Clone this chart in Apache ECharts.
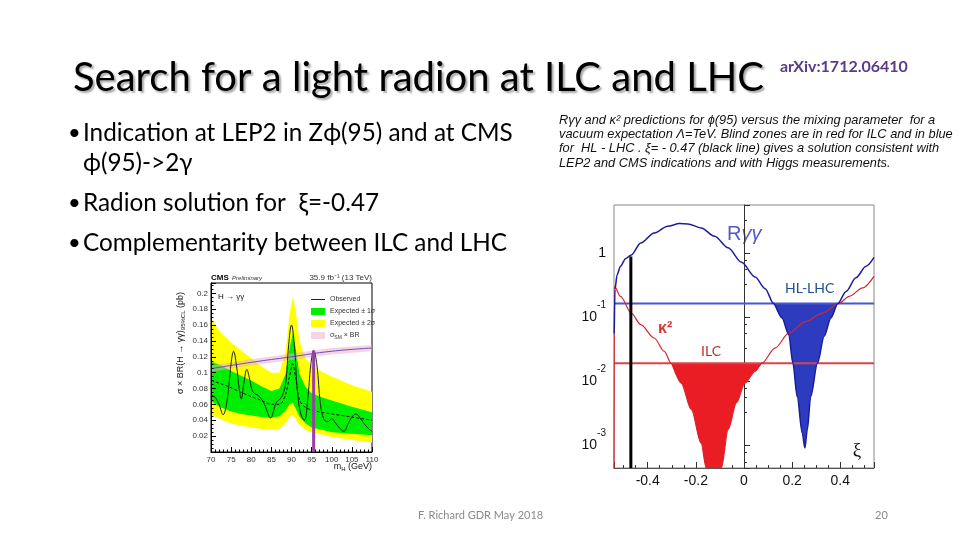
<!DOCTYPE html>
<html>
<head>
<meta charset="utf-8">
<script src="https://cdn.jsdelivr.net/npm/echarts@6/dist/echarts.min.js"></script>
<style>
  html, body { margin: 0; padding: 0; background: #fff; }
  #slide { width: 960px; height: 540px; }
</style>
</head>
<body>
<div id="slide"></div>
<script>
// ---- CMS H -> gamma gamma limit plot (left) ----
const bandMass = [70, 72.5, 75, 77.5, 80, 82.5, 85, 87, 88.5, 89.5, 90.3, 91, 92, 93.5, 95, 97.5, 100, 105, 110]
const yellowHigh = [0.168, 0.150, 0.138, 0.128, 0.118, 0.108, 0.100, 0.100, 0.125, 0.172, 0.196, 0.180, 0.140, 0.118, 0.109, 0.101, 0.095, 0.084, 0.076]
const yellowLow = [0.047, 0.041, 0.036, 0.033, 0.031, 0.029, 0.028, 0.029, 0.036, 0.044, 0.047, 0.042, 0.034, 0.028, 0.025, 0.022, 0.019, 0.015, 0.012]
const greenHigh = [0.114, 0.109, 0.102, 0.096, 0.090, 0.083, 0.077, 0.080, 0.098, 0.130, 0.150, 0.132, 0.098, 0.082, 0.074, 0.069, 0.065, 0.057, 0.050]
const greenLow = [0.064, 0.056, 0.051, 0.048, 0.046, 0.044, 0.043, 0.045, 0.052, 0.060, 0.062, 0.055, 0.044, 0.036, 0.031, 0.028, 0.025, 0.023, 0.021]
const expected = [0.090, 0.086, 0.081, 0.075, 0.070, 0.065, 0.060, 0.060, 0.072, 0.095, 0.111, 0.095, 0.065, 0.056, 0.053, 0.050, 0.048, 0.044, 0.040]

const obsMass = [70, 71, 72, 73, 74, 75, 75.6, 76.3, 77, 77.5, 78.2, 78.9, 79.6, 80.4, 82, 83.3, 84.8, 86.2, 87.5, 88.5, 89.3, 90, 90.7, 91.5, 92.3, 93.2, 94, 94.8, 95.5, 96.3, 97.2, 98, 99, 100, 101, 102, 103, 104, 105, 106, 107, 108, 109, 110]
const observed = [0.072, 0.069, 0.060, 0.047, 0.065, 0.112, 0.127, 0.110, 0.080, 0.067, 0.088, 0.104, 0.092, 0.076, 0.070, 0.060, 0.043, 0.062, 0.069, 0.085, 0.135, 0.160, 0.135, 0.075, 0.048, 0.040, 0.065, 0.110, 0.128, 0.110, 0.060, 0.042, 0.038, 0.042, 0.036, 0.030, 0.026, 0.035, 0.044, 0.048, 0.043, 0.036, 0.030, 0.026]

const smMass = [70, 80, 90, 100, 110]
const smXsec = [0.105, 0.113, 0.120, 0.127, 0.131]
const smLow = [0.101, 0.109, 0.116, 0.123, 0.127]
const smHigh = [0.109, 0.117, 0.124, 0.131, 0.135]

const excessMass = 95.5
const excessTop = 0.128

// ---- radion R_gamgam / kappa^2 vs xi (right) ----
const xiR = [-0.539, -0.536, -0.527, -0.513, -0.492, -0.468, -0.429, -0.373, -0.317, -0.268, -0.233, -0.178, -0.122, -0.066, -0.010, 0.046, 0.088, 0.123, 0.158, 0.186, 0.203, 0.221, 0.242, 0.253, 0.263, 0.277, 0.305, 0.333, 0.361, 0.389, 0.424, 0.465, 0.507, 0.54]
const rgg = [0.056, 0.27, 0.458, 0.62, 0.815, 0.93, 1.43, 2.05, 2.61, 2.87, 2.84, 2.46, 1.82, 1.20, 0.715, 0.42, 0.277, 0.162, 0.0964, 0.053, 0.019, 0.0057, 0.00154, 0.0009, 0.00174, 0.0057, 0.019, 0.050, 0.0964, 0.162, 0.25, 0.41, 0.62, 0.85]

const xiK = [-0.5399, -0.538, -0.513, -0.468, -0.429, -0.373, -0.331, -0.303, -0.261, -0.219, -0.178, -0.157, -0.125, -0.094, -0.066, -0.031, 0.004, 0.046, 0.074, 0.130, 0.186, 0.256, 0.326, 0.393, 0.437, 0.493, 0.54]
const kappa2 = [0.0002, 0.30, 0.21, 0.115, 0.076, 0.047, 0.029, 0.019, 0.0093, 0.0036, 0.00107, 0.00044, 0.00012, 0.00044, 0.00174, 0.0046, 0.0093, 0.0142, 0.019, 0.033, 0.056, 0.085, 0.115, 0.162, 0.21, 0.284, 0.43]

const hlLhcLimit = 0.162
const ilcLimit = 0.019
const xiSolution = -0.47
const xiSolutionTop = 0.88
const xiRange = [-0.54, 0.54]
const yRange = [4.4e-4, 5.6]

const pairs = (xs, ys) => xs.map((x, i) => [x, ys[i]])
const between = (xs, ys, a, b) => pairs(xs, ys).filter(p => p[0] >= a && p[0] <= b)

const chart = echarts.init(document.getElementById('slide'), null, { width: 960, height: 540 })

const arial = 'Liberation Sans'
const cal = 'Lato'

// filled band between two curves, drawn as one polygon through the axis scales
function band(name, xs, lo, hi, color) {
  return {
    name: name, type: 'custom', xAxisIndex: 0, yAxisIndex: 0, clip: true, silent: true,
    itemStyle: { color: color },
    encode: { x: 0, y: [1, 2] },
    data: xs.map((x, i) => [x, lo[i], hi[i]]),
    renderItem: function (params, api) {
      if (params.dataIndex !== 0) return
      const pts = []
      for (let i = 0; i < xs.length; i++) pts.push(api.coord([xs[i], hi[i]]))
      for (let i = xs.length - 1; i >= 0; i--) pts.push(api.coord([xs[i], lo[i]]))
      return { type: 'polygon', shape: { points: pts }, style: { fill: color } }
    }
  }
}

var option = {
  animation: false,
  backgroundColor: '#fff',
  legend: {
    left: 306, top: 291, orient: 'vertical',
    itemWidth: 14, itemHeight: 7, itemGap: 5,
    textStyle: { fontSize: 7, fontFamily: arial, color: '#333',
      rich: { a: { fontSize: 7, fontFamily: arial }, sub: { fontSize: 5, fontFamily: arial, padding: [4, 0, 0, 0] } } },
    formatter: function (n) { return n === 'σSM × BR' ? '{a|σ}{sub|SM}{a| × BR}' : n },
    data: [
      { name: 'Observed', icon: 'path://M0,0 L14,0 L14,1 L0,1 Z', itemStyle: { color: '#222' } },
      { name: 'Expected ± 1σ', icon: 'rect' },
      { name: 'Expected ± 2σ', icon: 'rect' },
      { name: 'σSM × BR', icon: 'rect' }
    ]
  },
  grid: [
    { left: 211, top: 283, width: 161, height: 169, show: true, borderColor: '#000', borderWidth: 1, backgroundColor: '#fff' },
    { left: 614, top: 205, width: 260, height: 263, show: true, borderColor: '#888', borderWidth: 1 }
  ],
  xAxis: [
    {
      gridIndex: 0, type: 'value', min: 70, max: 110, interval: 5, z: 5,
      axisLine: { lineStyle: { color: '#000' } },
      axisTick: { inside: true, length: 5, lineStyle: { color: '#000' } },
      minorTick: { show: true, splitNumber: 5, length: 2.5, lineStyle: { color: '#000' } },
      splitLine: { show: false },
      axisLabel: { fontSize: 8, fontFamily: arial, color: '#333', margin: 4 }
    },
    {
      gridIndex: 1, type: 'value', min: xiRange[0], max: xiRange[1],
      axisLine: { lineStyle: { color: '#555' } },
      axisTick: { inside: true, length: 6, lineStyle: { color: '#333' } },
      minorTick: { show: true, splitNumber: 4, length: 3, lineStyle: { color: '#333' } },
      splitLine: { show: false },
      axisLabel: {
        fontSize: 14, fontFamily: arial, color: '#111', margin: 6,
        formatter: function (v) {
          const k = v / 0.2
          if (Math.abs(k - Math.round(k)) > 1e-6) return ''
          return Math.abs(v) < 1e-9 ? '0' : String(+v.toFixed(1))
        }
      }
    }
  ],
  yAxis: [
    {
      gridIndex: 0, type: 'value', min: 0, max: 0.213, interval: 0.02, z: 5,
      axisLine: { lineStyle: { color: '#000' } },
      axisTick: { inside: true, length: 5, lineStyle: { color: '#000' } },
      minorTick: { show: true, splitNumber: 4, length: 2.5, lineStyle: { color: '#000' } },
      splitLine: { show: false },
      axisLabel: {
        fontSize: 8, fontFamily: arial, color: '#333', margin: 3,
        formatter: function (v) { return (v < 0.001 || v > 0.2001) ? '' : String(+v.toFixed(2)) }
      }
    },
    {
      gridIndex: 1, type: 'log', logBase: 10, min: yRange[0], max: yRange[1],
      axisLine: { show: true, lineStyle: { color: '#333' } },
      axisTick: { inside: true, length: 6, lineStyle: { color: '#333' } },
      minorTick: { show: true, splitNumber: 4, length: 3, lineStyle: { color: '#333' } },
      splitLine: { show: false },
      axisLabel: {
        margin: 8,
        formatter: function (v) {
          const lg = Math.log10(v)
          const e = Math.round(lg)
          if (Math.abs(lg - e) > 1e-6) return ''
          if (e === 0) return '{b|1}'
          return '{b|10}{s|' + e + '}'
        },
        rich: {
          b: { fontSize: 14, fontFamily: arial, color: '#111', verticalAlign: 'middle' },
          s: { fontSize: 10, fontFamily: arial, color: '#111', verticalAlign: 'middle', padding: [0, 0, 24, 0] }
        }
      }
    }
  ],
  series: [
    // CMS bands
    band('Expected ± 2σ', bandMass, yellowLow, yellowHigh, '#ffff00'),
    band('Expected ± 1σ', bandMass, greenLow, greenHigh, '#00ee00'),
    band('σSM × BR', smMass, smLow, smHigh, 'rgba(240,170,200,0.5)'),
    {
      name: 'smLine', type: 'line', xAxisIndex: 0, yAxisIndex: 0, symbol: 'none', smooth: true,
      data: pairs(smMass, smXsec),
      lineStyle: { color: '#6650c0', width: 1 }
    },
    {
      name: 'Expected', type: 'line', xAxisIndex: 0, yAxisIndex: 0, symbol: 'none', smooth: 0.3,
      data: pairs(bandMass, expected),
      lineStyle: { color: '#111', width: 1, type: [3, 2] }
    },
    {
      name: 'Observed', type: 'line', xAxisIndex: 0, yAxisIndex: 0, symbol: 'none', smooth: 0.4,
      data: pairs(obsMass, observed),
      itemStyle: { color: '#222' },
      lineStyle: { color: '#222', width: 1 }
    },
    {
      name: 'excess', type: 'line', xAxisIndex: 0, yAxisIndex: 0, symbol: 'none',
      data: [[excessMass, 0], [excessMass, excessTop]],
      lineStyle: { color: '#9a3fa6', width: 3 }
    },

    // radion plot: blind zones
    {
      name: 'ILC blind', type: 'line', xAxisIndex: 1, yAxisIndex: 1, symbol: 'none', smooth: 0.3, smoothMonotone: 'x',
      data: between(xiK, kappa2, -0.303, 0.074),
      lineStyle: { width: 0 }, areaStyle: { color: '#ea1c24', opacity: 1, origin: ilcLimit }
    },
    {
      name: 'HL-LHC blind', type: 'line', xAxisIndex: 1, yAxisIndex: 1, symbol: 'none', smooth: 0.3, smoothMonotone: 'x',
      data: between(xiR, rgg, 0.123, 0.389),
      lineStyle: { width: 0 }, areaStyle: { color: '#2d3cbf', opacity: 1, origin: hlLhcLimit }
    },
    {
      name: 'HL-LHC', type: 'line', xAxisIndex: 1, yAxisIndex: 1, symbol: 'none',
      data: [[xiRange[0], hlLhcLimit], [xiRange[1], hlLhcLimit]],
      lineStyle: { color: '#4657cf', width: 2 }
    },
    {
      name: 'ILC', type: 'line', xAxisIndex: 1, yAxisIndex: 1, symbol: 'none',
      data: [[xiRange[0], ilcLimit], [xiRange[1], ilcLimit]],
      lineStyle: { color: '#d9444a', width: 2 }
    },
    {
      name: 'κ²', type: 'line', xAxisIndex: 1, yAxisIndex: 1, symbol: 'none', smooth: 0.3, smoothMonotone: 'x',
      data: pairs(xiK, kappa2),
      lineStyle: { color: '#d4262e', width: 1.2 }
    },
    {
      name: 'Rγγ', type: 'line', xAxisIndex: 1, yAxisIndex: 1, symbol: 'none', smooth: 0.3, smoothMonotone: 'x',
      data: pairs(xiR, rgg),
      lineStyle: { color: '#1c1c9a', width: 1.5 }
    },
    {
      name: 'xi solution', type: 'line', xAxisIndex: 1, yAxisIndex: 1, symbol: 'none',
      data: [[xiSolution, yRange[0]], [xiSolution, xiSolutionTop]],
      lineStyle: { color: '#000', width: 3 }
    }
  ],
  graphic: [
    { type: 'text', x: 73, y: 78, style: { text: 'Search for a light radion at ILC and LHC', fontSize: 40, fontFamily: cal, fill: '#000', verticalAlign: 'middle',
      textShadowColor: 'rgba(0,0,0,0.35)', textShadowOffsetX: 2, textShadowOffsetY: 2, textShadowBlur: 2 } },
    { type: 'text', x: 780, y: 67, style: { text: 'arXiv:1712.06410', fontSize: 16, fontWeight: 'bold', fontFamily: cal, fill: '#5b3a8c', verticalAlign: 'middle' } },

    { type: 'text', x: 68, y: 133, style: { text: '•', fontSize: 22, fontFamily: cal, fill: '#000', verticalAlign: 'middle' } },
    { type: 'text', x: 83, y: 133, style: { text: 'Indication at LEP2 in Zϕ(95) and at CMS', fontSize: 24.3, fontFamily: cal, fill: '#000', verticalAlign: 'middle' } },
    { type: 'text', x: 83, y: 163, style: { text: 'ϕ(95)->2γ', fontSize: 24.3, fontFamily: cal, fill: '#000', verticalAlign: 'middle' } },
    { type: 'text', x: 68, y: 203, style: { text: '•', fontSize: 22, fontFamily: cal, fill: '#000', verticalAlign: 'middle' } },
    { type: 'text', x: 83, y: 203, style: { text: 'Radion solution for  ξ=-0.47', fontSize: 24.3, fontFamily: cal, fill: '#000', verticalAlign: 'middle' } },
    { type: 'text', x: 68, y: 243, style: { text: '•', fontSize: 22, fontFamily: cal, fill: '#000', verticalAlign: 'middle' } },
    { type: 'text', x: 83, y: 243, style: { text: 'Complementarity between ILC and LHC', fontSize: 24.3, fontFamily: cal, fill: '#000', verticalAlign: 'middle' } },

    { type: 'text', x: 559, y: 120, style: { text: 'Rγγ and κ² predictions for ϕ(95) versus the mixing parameter  for a', fontSize: 12.8, fontStyle: 'italic', fontFamily: arial, fill: '#111', verticalAlign: 'middle' } },
    { type: 'text', x: 559, y: 134, style: { text: 'vacuum expectation Λ=TeV. Blind zones are in red for ILC and in blue', fontSize: 12.8, fontStyle: 'italic', fontFamily: arial, fill: '#111', verticalAlign: 'middle' } },
    { type: 'text', x: 559, y: 148, style: { text: 'for  HL - LHC . ξ= - 0.47 (black line) gives a solution consistent with', fontSize: 12.8, fontStyle: 'italic', fontFamily: arial, fill: '#111', verticalAlign: 'middle' } },
    { type: 'text', x: 559, y: 163, style: { text: 'LEP2 and CMS indications and with Higgs measurements.', fontSize: 12.8, fontStyle: 'italic', fontFamily: arial, fill: '#111', verticalAlign: 'middle' } },

    // CMS plot texts
    { type: 'text', x: 211, y: 278, style: { text: '{c|CMS} {p|Preliminary}', verticalAlign: 'middle',
      rich: { c: { fontSize: 8, fontWeight: 'bold', fontFamily: arial, fill: '#000' }, p: { fontSize: 6, fontStyle: 'italic', fontFamily: arial, fill: '#333' } } } },
    { type: 'text', x: 372, y: 278, style: { text: '35.9 fb⁻¹ (13 TeV)', fontSize: 8, fontFamily: arial, fill: '#333', align: 'right', verticalAlign: 'middle' } },
    { type: 'text', x: 218, y: 297, style: { text: 'H → γγ', fontSize: 8, fontFamily: arial, fill: '#111', verticalAlign: 'middle' } },
    { type: 'text', x: 181, y: 343, rotation: Math.PI / 2, style: { text: '{a|σ × BR(H → γγ)}{s|95%CL}{a| (pb)}', align: 'center', verticalAlign: 'middle',
      rich: { a: { fontSize: 9, fontFamily: arial, fill: '#111' }, s: { fontSize: 6, fontFamily: arial, fill: '#111', padding: [5, 0, 0, 0] } } } },
    { type: 'text', x: 372, y: 467, style: { text: '{a|m}{s|H}{a| (GeV)}', align: 'right', verticalAlign: 'middle',
      rich: { a: { fontSize: 9, fontFamily: arial, fill: '#111' }, s: { fontSize: 6, fontFamily: arial, fill: '#111', padding: [5, 0, 0, 0] } } } },

    // radion plot texts
    { type: 'text', x: 727, y: 234, style: { text: '{r|R}{g|γγ}', verticalAlign: 'middle',
      rich: { r: { fontSize: 20, fontFamily: arial, fill: '#5658c8' }, g: { fontSize: 20, fontStyle: 'italic', fontFamily: arial, fill: '#5658c8' } } } },
    { type: 'text', x: 658, y: 329, style: { text: 'κ²', fontSize: 16, fontWeight: 'bold', fontFamily: arial, fill: '#d43a3a', verticalAlign: 'middle' } },
    { type: 'text', x: 785, y: 288, style: { text: 'HL-LHC', fontSize: 14, fontFamily: cal, fill: '#1f4f8f', verticalAlign: 'middle' } },
    { type: 'text', x: 701, y: 351, style: { text: 'ILC', fontSize: 14, fontFamily: cal, fill: '#c0302a', verticalAlign: 'middle' } },
    { type: 'text', x: 857, y: 451, style: { text: 'ξ', fontSize: 19, fontFamily: 'Liberation Serif', fill: '#111', align: 'center', verticalAlign: 'middle' } },

    // footer
    { type: 'text', x: 418, y: 515, style: { text: 'F. Richard GDR May 2018', fontSize: 11, fontFamily: cal, fill: '#8a8a8a', verticalAlign: 'middle' } },
    { type: 'text', x: 875, y: 515, style: { text: '20', fontSize: 11, fontFamily: cal, fill: '#8a8a8a', verticalAlign: 'middle' } }
  ]
}

chart.setOption(option)
</script>
</body>
</html>
